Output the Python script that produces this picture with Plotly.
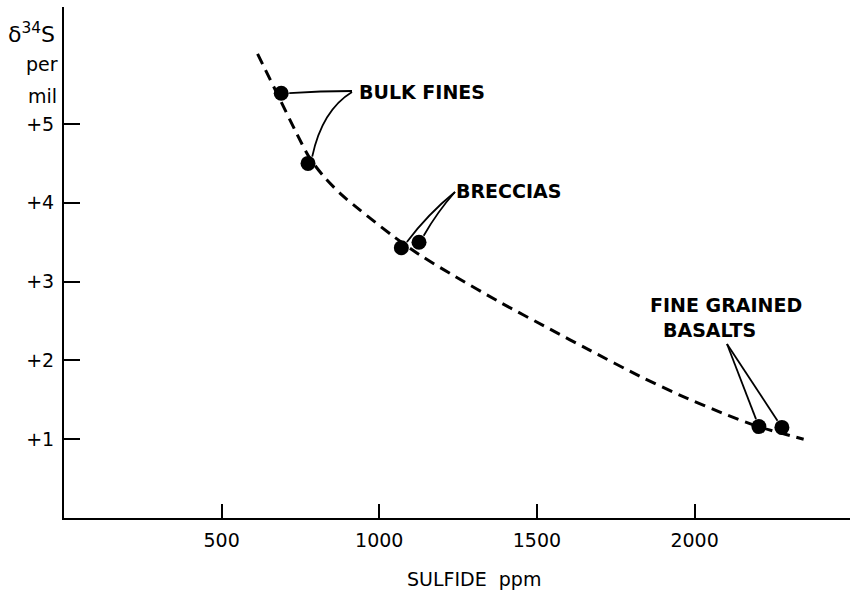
import plotly.graph_objects as go

# ---------------- data ----------------
curve_x = [614, 684, 738, 779, 827, 881, 938, 1043, 1128, 1230, 1382, 1540, 1667, 1826, 1953, 2102, 2203, 2346]
curve_y = [5.89, 5.32, 4.88, 4.57, 4.32, 4.10, 3.91, 3.58, 3.34, 3.09, 2.74, 2.40, 2.13, 1.80, 1.56, 1.31, 1.16, 1.00]

bulk_x = [689, 774]
bulk_y = [5.39, 4.50]
breccia_x = [1070, 1126]
breccia_y = [3.43, 3.50]
basalt_x = [2204, 2277]
basalt_y = [1.16, 1.15]

x_tickvals = [500, 1000, 1500, 2000]
x_ticktext = ["500", "1000", "1500", "2000"]
y_tickvals = [1, 2, 3, 4, 5]
y_ticktext = ["+1", "+2", "+3", "+4", "+5"]

# ---------------- layout geometry ----------------
W, H = 850, 592
ML, MR, MT, MB = 64, 0, 7, 74
PW, PH = W - ML - MR, H - MT - MB
X_RANGE = [0, 2493]
Y_RANGE = [0, 6.485]

FONT = "DejaVu Sans"


def px2x(px):
    return X_RANGE[0] + (px - ML) / PW * (X_RANGE[1] - X_RANGE[0])


def px2y(py):
    return Y_RANGE[0] + (MT + PH - py) / PH * (Y_RANGE[1] - Y_RANGE[0])


def x2px(x):
    return ML + (x - X_RANGE[0]) / (X_RANGE[1] - X_RANGE[0]) * PW


def y2px(y):
    return MT + PH - (y - Y_RANGE[0]) / (Y_RANGE[1] - Y_RANGE[0]) * PH


def pxp(px):
    return (px - ML) / PW


def pyp(py):
    return (MT + PH - py) / PH


fig = go.Figure()

fig.add_trace(go.Scatter(
    x=curve_x, y=curve_y, mode="lines",
    line=dict(color="black", width=3, dash="11px,7px", shape="spline", smoothing=0.8),
    hoverinfo="skip", showlegend=False,
))

for xs, ys in [(bulk_x, bulk_y), (breccia_x, breccia_y), (basalt_x, basalt_y)]:
    fig.add_trace(go.Scatter(
        x=xs, y=ys, mode="markers",
        marker=dict(color="black", size=15, line=dict(width=0)),
        showlegend=False,
    ))


def leader(apex, xs, ys, idx, bend=(0, 0), gap=8):
    """Leader line from a label apex (pixels) to point idx of a group, stopping at dot edge."""
    ax, ay = apex
    px, py = x2px(xs[idx]), y2px(ys[idx])
    dx, dy = ax - px, ay - py
    d = (dx * dx + dy * dy) ** 0.5
    ex, ey = px + dx / d * gap, py + dy / d * gap
    cx, cy = (ax + ex) / 2 + bend[0], (ay + ey) / 2 + bend[1]
    path = "M {} {} Q {} {} {} {}".format(px2x(ax), px2y(ay), px2x(cx), px2y(cy), px2x(ex), px2y(ey))
    fig.add_shape(type="path", path=path, xref="x", yref="y",
                  line=dict(color="black", width=1.8))


# Bulk fines leaders
leader((352, 91), bulk_x, bulk_y, 0, bend=(0, -1))
leader((352, 92), bulk_x, bulk_y, 1, bend=(-10, -14))
# Breccias leaders
leader((455, 192), breccia_x, breccia_y, 0, bend=(-3, -3))
leader((455, 192), breccia_x, breccia_y, 1, bend=(-2, -2))
# Basalts leaders
leader((727, 344), basalt_x, basalt_y, 0)
leader((727, 344), basalt_x, basalt_y, 1)

label_font = dict(family=FONT, size=19, color="black")
annotations = [
    dict(text="<b>BULK FINES</b>", x=pxp(357), y=pyp(92), xanchor="left", yanchor="middle"),
    dict(text="<b>BRECCIAS</b>", x=pxp(454), y=pyp(191), xanchor="left", yanchor="middle"),
    dict(text="<b>FINE GRAINED</b>", x=pxp(648), y=pyp(305), xanchor="left", yanchor="middle"),
    dict(text="<b>BASALTS</b>", x=pxp(661), y=pyp(330), xanchor="left", yanchor="middle"),
]
for a in annotations:
    a.update(xref="paper", yref="paper", showarrow=False, font=label_font)

axis_font = dict(family=FONT, size=19, color="black")
annotations += [
    dict(text="δ<sup>34</sup>S", x=pxp(31), y=pyp(33), xanchor="center", yanchor="middle",
         font=dict(family=FONT, size=22, color="black")),
    dict(text="per", x=pxp(42), y=pyp(64), xanchor="center", yanchor="middle", font=axis_font),
    dict(text="mil", x=pxp(42), y=pyp(96), xanchor="center", yanchor="middle", font=axis_font),
    dict(text="SULFIDE  ppm", x=pxp(405), y=pyp(579), xanchor="left", yanchor="middle", font=axis_font),
]
for a in annotations[4:]:
    a.update(xref="paper", yref="paper", showarrow=False)

fig.update_layout(
    width=W, height=H,
    margin=dict(l=ML, r=MR, t=MT, b=MB, pad=0),
    paper_bgcolor="white", plot_bgcolor="white",
    showlegend=False,
    annotations=annotations,
    xaxis=dict(
        range=X_RANGE, showgrid=False, zeroline=False,
        showline=True, linecolor="black", linewidth=2,
        ticks="inside", ticklen=14, tickwidth=2, tickcolor="black",
        tickvals=x_tickvals, ticktext=x_ticktext,
        tickfont=axis_font, ticklabelstandoff=4,
    ),
    yaxis=dict(
        range=Y_RANGE, showgrid=False, zeroline=False,
        showline=True, linecolor="black", linewidth=2,
        ticks="inside", ticklen=16, tickwidth=2, tickcolor="black",
        tickvals=y_tickvals, ticktext=y_ticktext,
        tickfont=axis_font, ticklabelstandoff=4,
    ),
)

fig.write_html(
    "out.html",
    config={"displayModeBar": False},
    post_script="document.body.style.margin='0';document.body.style.overflow='hidden';",
)
